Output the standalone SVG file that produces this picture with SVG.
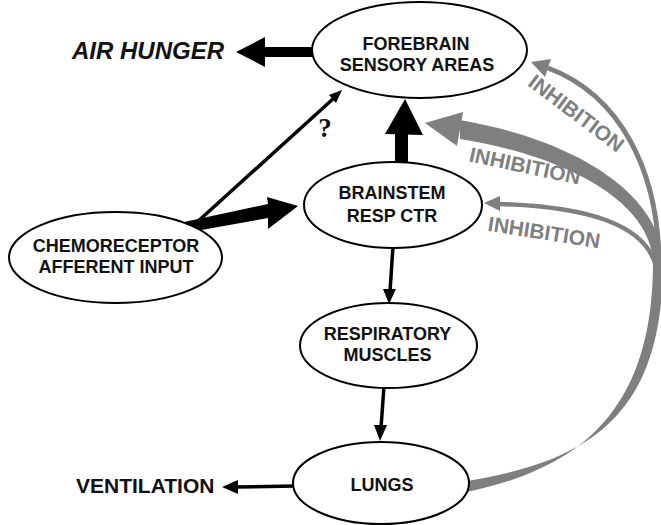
<svg xmlns="http://www.w3.org/2000/svg" width="661" height="525" viewBox="0 0 661 525">
<style>
.node ellipse{fill:#fff;stroke:#000;stroke-width:2}
.nt{font-family:"Liberation Sans",Arial,sans-serif;font-weight:bold;font-size:18px;fill:#111;text-anchor:middle}
.lbl{font-family:"Liberation Sans",Arial,sans-serif;font-weight:bold;fill:#111}
.inh{font-family:"Liberation Sans",Arial,sans-serif;font-weight:bold;font-size:21px;fill:#7f7f7f;text-anchor:middle}
.blk{stroke:#000;fill:none;stroke-width:3.5}
.gry{stroke:#7f7f7f;fill:none}
.gf{fill:#7f7f7f}
</style>
<g id="connectors">
  <!-- forebrain -> air hunger -->
  <rect x="262" y="47" width="52" height="10" fill="#000"/>
  <polygon points="236,52 265,37 265,67" fill="#000"/>
  <!-- brainstem -> forebrain -->
  <rect x="395" y="130" width="13" height="35" fill="#000"/>
  <polygon points="405,99 385,134 423,135" fill="#000"/>
  <!-- chemoreceptor -> brainstem (wedge) -->
  <polygon points="184,222 268,204 267,197 298,206 268,229 268,218 190,232" fill="#000"/>
  <!-- chemoreceptor -> forebrain (?) -->
  <line x1="195" y1="224" x2="334" y2="98" class="blk" stroke-width="3"/>
  <polygon points="342,90 336,103 329,95" fill="#000"/>
  <text x="325" y="137" font-family="'Liberation Serif','Times New Roman',serif" font-weight="bold" font-size="27" text-anchor="middle" fill="#111">?</text>
  <!-- brainstem -> respiratory muscles -->
  <line x1="393" y1="246" x2="390" y2="292" class="blk"/>
  <polygon points="389,304 383,289 396,289" fill="#000"/>
  <!-- respiratory muscles -> lungs -->
  <line x1="384" y1="386" x2="381" y2="428" class="blk"/>
  <polygon points="380,441 374,425 387,425" fill="#000"/>
  <!-- lungs -> ventilation -->
  <line x1="295" y1="486" x2="234" y2="487" class="blk" stroke-width="4"/>
  <polygon points="222,487 238,480 238,494" fill="#000"/>
  <!-- inhibition feedback: main thick band + middle arc -->
  <path class="gf" d="M 462,482 C 585,462 663,420 663,262 C 661,196 580,141 460,120 L 460,139 C 576,158 651,206 653,262 C 653,414 577,470 462,493 Z"/>
  <polygon class="gf" points="425,123 463,112 457,146"/>
  <!-- top arc -->
  <path class="gry" stroke-width="5" d="M 659,262 C 658,170 620,95 548,68"/>
  <polygon class="gf" points="531,62 551,59 545,77"/>
  <!-- bottom arc -->
  <path class="gry" stroke-width="4.5" d="M 656,266 C 645,225 590,207 500,204"/>
  <polygon class="gf" points="484,203 500,196 500,211"/>
  <!-- labels -->
  <text class="lbl" x="72" y="59" font-size="24" font-style="italic">AIR HUNGER</text>
  <text class="lbl" x="76" y="493" font-size="21">VENTILATION</text>
  <text class="inh" transform="translate(572,119) rotate(37)">INHIBITION</text>
  <text class="inh" transform="translate(523.5,173) rotate(12)">INHIBITION</text>
  <text class="inh" transform="translate(543,239.5) rotate(9)">INHIBITION</text>
</g>
<g id="forebrain" class="node">
  <ellipse cx="419.5" cy="50" rx="107.5" ry="48"/>
  <text class="nt" x="416" y="50">FOREBRAIN</text>
  <text class="nt" x="417" y="70.5">SENSORY AREAS</text>
</g>
<g id="brainstem" class="node">
  <ellipse cx="393" cy="205" rx="89" ry="43"/>
  <text class="nt" x="392" y="199">BRAINSTEM</text>
  <text class="nt" x="392" y="222">RESP CTR</text>
</g>
<g id="chemoreceptor" class="node">
  <ellipse cx="115.5" cy="257.5" rx="106.5" ry="45.5"/>
  <text class="nt" x="116" y="252">CHEMORECEPTOR</text>
  <text class="nt" x="116" y="273">AFFERENT INPUT</text>
</g>
<g id="respiratory-muscles" class="node">
  <ellipse cx="388.5" cy="345.5" rx="88.5" ry="42.5"/>
  <text class="nt" x="387.5" y="339.5">RESPIRATORY</text>
  <text class="nt" x="387.5" y="360.5">MUSCLES</text>
</g>
<g id="lungs" class="node">
  <ellipse cx="381" cy="483" rx="88" ry="41"/>
  <text class="nt" x="382" y="491">LUNGS</text>
</g>
</svg>
